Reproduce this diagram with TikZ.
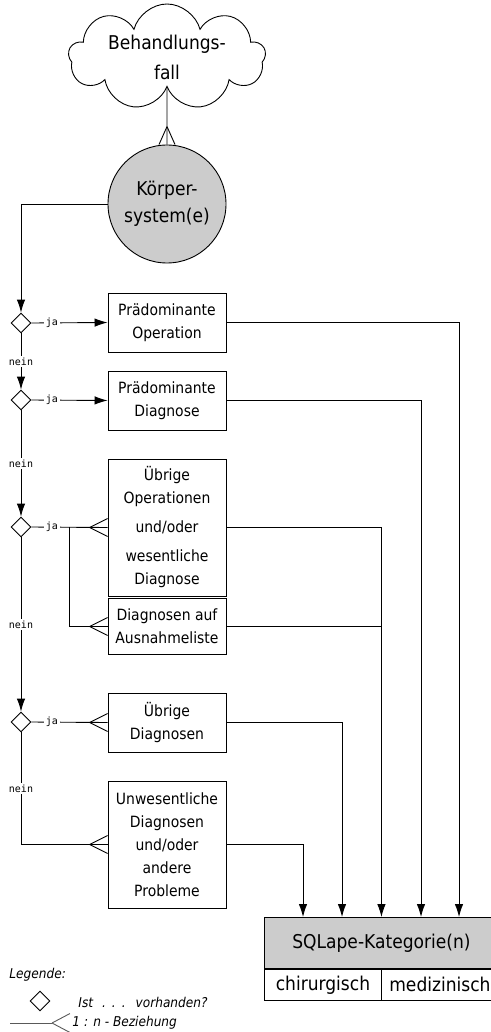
\documentclass[tikz,border=0pt]{standalone}
\usepackage{fontspec}
\setmainfont{DejaVu Sans Condensed}
\newfontfamily\monofont{DejaVu Sans Mono}
\usetikzlibrary{shapes.geometric,shapes.symbols,arrows.meta}

% 1:n - Beziehung an der linken Seite eines Knotens
\newcommand\crowfoot[2][]{%
  \draw[#1] ([xshift=-18pt]#2.west) -- ([yshift=9pt]#2.west)
        ([xshift=-18pt]#2.west) -- ([yshift=-9pt]#2.west);}

\begin{document}
\begin{tikzpicture}[x=1pt,y=-1pt,line width=0.9pt,
  kasten/.style={draw,rectangle,minimum width=118pt,align=center,inner sep=0pt,
    font=\fontsize{15.5}{23}\selectfont},
  frage/.style={draw,diamond,minimum width=20pt,minimum height=20pt,inner sep=0pt,fill=white},
  janein/.style={fill=white,inner sep=1.5pt,font=\monofont\fontsize{10}{10}\selectfont},
  pfeil/.style={-{Latex[length=13pt,width=8.5pt]}},
  gross/.style={font=\fontsize{19}{27}\selectfont,align=center,inner sep=0pt},
  legende/.style={font=\itshape\fontsize{13.5}{14}\selectfont,anchor=west,inner sep=0pt}]
\useasboundingbox (0,0) rectangle (490,1032);

% Fall und Koerpersystem
\node[cloud,draw,cloud puffs=9,cloud ignores aspect,minimum width=197pt,minimum height=106pt,
  gross,font=\fontsize{19}{30}\selectfont] (fall) at (167,57) {Behandlungs-\\fall};
\node[circle,draw,fill=gray!40,minimum size=118pt,gross] (koerper) at (167,204) {Körper-\\system(e)};
\draw (fall.south) -- (koerper.north);
\draw ([yshift=18pt]koerper.north) -- ([xshift=-8pt]koerper.north)
      ([yshift=18pt]koerper.north) -- ([xshift=8pt]koerper.north);

% Fragen
\node[frage] (d1) at (21,323) {};
\node[frage] (d2) at (21,400) {};
\node[frage] (d3) at (21,527) {};
\node[frage] (d4) at (21,722) {};

% Kaesten
\node[kasten,minimum height=59pt] (b1) at (167,322.5) {Prädominante\\Operation};
\node[kasten,minimum height=59pt] (b2) at (167,400.5) {Prädominante\\Diagnose};
\node[kasten,minimum height=137pt] (b3) at (167,527.5) {Übrige\\Operationen\\[6pt]und/oder\\[6pt]wesentliche\\Diagnose};
\node[kasten,minimum height=56pt] (b4) at (167,626.5) {Diagnosen auf\\Ausnahmeliste};
\node[kasten,minimum height=59pt] (b5) at (167,722.5) {Übrige\\Diagnosen};
\node[kasten,minimum height=127pt] (b6) at (167,844.5) {Unwesentliche\\Diagnosen\\und/oder\\andere\\Probleme};

% SQLape
\node[draw,fill=gray!40,minimum width=234pt,minimum height=51pt,anchor=north west,
  gross,font=\fontsize{19}{22}\selectfont] (sql) at (264,917) {SQLape-Kategorie(n)};
\node[draw,minimum width=117pt,minimum height=31pt,anchor=north west,gross] (chir) at (sql.south west) {chirurgisch};
\node[draw,minimum width=117pt,minimum height=31pt,anchor=north east,gross] (med) at (sql.south east) {medizinisch};

% linke Seite
\draw[pfeil] (koerper.west) -| (d1.north);
\draw[pfeil] (d1.east) -- node[janein,pos=0.27]{ja} (b1.west);
\draw[pfeil] (d1.south) -- node[janein]{nein} (d2.north);
\draw[pfeil] (d2.east) -- node[janein,pos=0.27]{ja} (b2.west);
\draw[pfeil] (d2.south) -- node[janein]{nein} (d3.north);
\draw (d3.east) -- node[janein,pos=0.27]{ja} (b3.west);
\draw ([xshift=38pt]d3.east) |- (b4.west);
\crowfoot{b3}
\crowfoot{b4}
\draw[pfeil] (d3.south) -- node[janein]{nein} (d4.north);
\draw (d4.east) -- node[janein,pos=0.27]{ja} (b5.west);
\crowfoot{b5}
\draw (d4.south) |- node[janein,pos=0.25]{nein} (b6.west);
\crowfoot{b6}

% rechte Seite
\draw[pfeil] (b1.east) -| ([xshift=195pt]sql.north west);
\draw[pfeil] (b2.east) -| ([xshift=157pt]sql.north west);
\draw[pfeil] (b3.east) -| (sql.north);
\draw (b4.east) -- (b4.east -| sql.north);
\draw[pfeil] (b5.east) -| ([xshift=78pt]sql.north west);
\draw[pfeil] (b6.east) -| ([xshift=39pt]sql.north west);

% Legende
\node[legende] (leg) at (9,975) {Legende:};
\node[frage,minimum width=20pt,minimum height=20pt] (legraute) at (40,1001) {};
\node[legende] (legfrage) at (78,1002) {Ist\hspace{9pt}.\hspace{6pt}.\hspace{6pt}.\hspace{10pt}vorhanden?};
\node[legende] (legbez) at (72,1023) {1 : n - Beziehung};
\coordinate (legstart) at (10,1023);
\draw[black!65] (legstart) -- ([xshift=-20pt]legbez.west);
\draw[black!65] ([xshift=-20pt]legbez.west) -- ([xshift=-2pt,yshift=9.5pt]legbez.west)
      ([xshift=-20pt]legbez.west) -- ([xshift=-2pt,yshift=-9.5pt]legbez.west);
\end{tikzpicture}
\end{document}
